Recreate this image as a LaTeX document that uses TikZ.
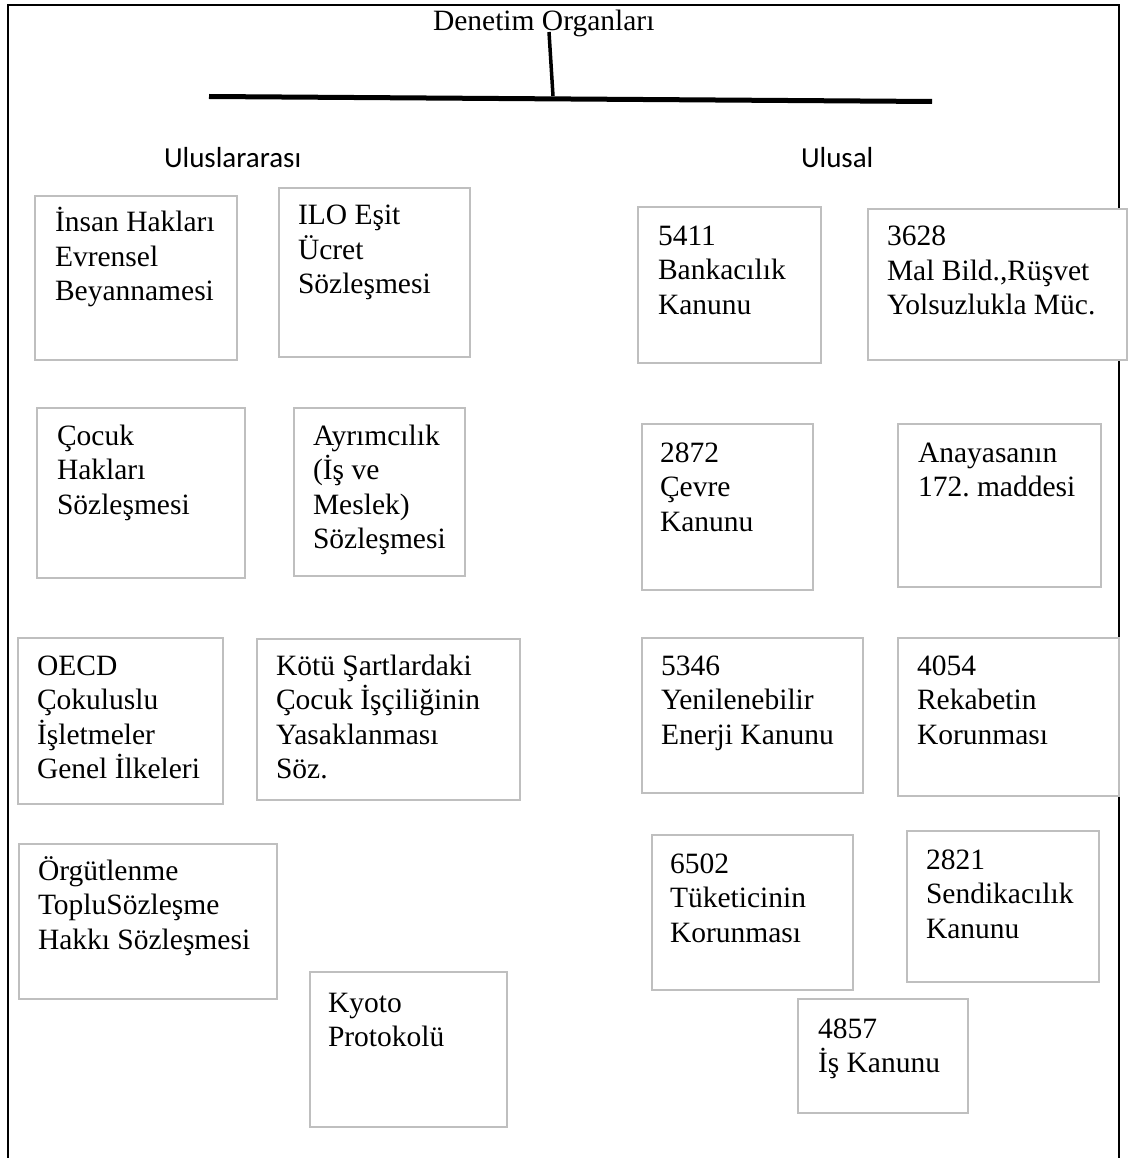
\documentclass[tikz,border=0pt]{standalone}
\usepackage{fontspec}
\setmainfont{Liberation Serif}
\newfontfamily\hdfont{Carlito}
\frenchspacing
\newcommand\lns[1]{\vtop{\halign{##\hfil\cr#1\crcr}}}
\newcommand\bbox[5]{\node[bx, minimum width={(#4)-(#2)-2}, minimum height={(#5)-(#3)-2}] (#1) at ({((#2)+(#4))/2},{((#3)+(#5))/2}) {};}
\tikzset{
  bx/.style={draw=black!25, line width=2pt, fill=white, rectangle, inner sep=0pt, outer sep=0pt},
  tx/.style={anchor=base west, inner sep=0pt, outer sep=0pt, font=\frenchspacing\fontsize{29.5}{34.5}\selectfont},
  hd/.style={anchor=base west, inner sep=0pt, outer sep=0pt, font=\hdfont\fontsize{29}{34}\selectfont},
  frame/.style={line width=2.5pt, black},
  stem/.style={line width=3.5pt, black},
  bar/.style={line width=5pt, black}
}
\begin{document}
\begin{tikzpicture}[x=1pt, y=-1pt]
\useasboundingbox (0,0) rectangle (1129,1158);
% outer frame
\draw[frame] (8,1158) -- (8,5) -- (1119,5) -- (1119,1158);
% title and bar
\node[tx] (title) at (433,31) {Denetim Organları};
\coordinate (stemT) at (549,32);
\coordinate (stemB) at (553,96);
\coordinate (barL) at (209,96.5);
\coordinate (barR) at (932,101.5);
\draw[stem] (stemT) -- (stemB);
\draw[bar] (barL) -- (barR);
% headers
\node[hd] (intl) at (164,168) {Uluslararası};
\node[hd] (natl) at (801,168) {Ulusal};
% left column boxes
\bbox{b1}{34}{195}{238}{361}
\node[tx] (t1) at (55,232) {\lns{İnsan Hakları\cr Evrensel\cr Beyannamesi}};
\bbox{b2}{278}{187}{471}{358}
\node[tx] (t2) at (298,225) {\lns{ILO Eşit\cr Ücret\cr Sözleşmesi}};
\bbox{b3}{36}{407}{246}{579}
\node[tx] (t3) at (57,445) {\lns{Çocuk\cr Hakları\cr Sözleşmesi}};
\bbox{b4}{293}{407}{466}{577}
\node[tx] (t4) at (313,445) {\lns{Ayrımcılık\cr (İş ve\cr Meslek)\cr Sözleşmesi}};
\bbox{b5}{17}{637}{224}{805}
\node[tx] (t5) at (37,675) {\lns{OECD\cr Çokuluslu\cr İşletmeler\cr Genel İlkeleri}};
\bbox{b6}{256}{638}{521}{801}
\node[tx] (t6) at (276,675) {\lns{Kötü Şartlardaki\cr Çocuk İşçiliğinin\cr Yasaklanması\cr Söz.}};
\bbox{b7}{18}{843}{278}{1000}
\node[tx] (t7) at (38,880) {\lns{Örgütlenme\cr TopluSözleşme\cr Hakkı Sözleşmesi}};
\bbox{b8}{309}{971}{508}{1128}
\node[tx] (t8) at (328,1012) {\lns{Kyoto\cr Protokolü}};
% right column boxes
\bbox{b9}{637}{206}{822}{364}
\node[tx] (t9) at (658,245) {\lns{5411\cr Bankacılık\cr Kanunu}};
\bbox{b10}{867}{208}{1128}{361}
\node[tx] (t10) at (887,246) {\lns{3628\cr Mal Bild.,Rüşvet\cr Yolsuzlukla Müc.}};
\bbox{b11}{641}{423}{814}{591}
\node[tx] (t11) at (660,462) {\lns{2872\cr Çevre\cr Kanunu}};
\bbox{b12}{897}{423}{1102}{588}
\node[tx] (t12) at (918,462) {\lns{Anayasanın\cr 172. maddesi}};
\bbox{b13}{641}{637}{864}{794}
\node[tx] (t13) at (661,675) {\lns{5346\cr Yenilenebilir\cr Enerji Kanunu}};
\bbox{b14}{897}{637}{1120}{797}
\node[tx] (t14) at (917,675) {\lns{4054\cr Rekabetin\cr Korunması}};
\bbox{b15}{651}{834}{854}{991}
\node[tx] (t15) at (670,873) {\lns{6502\cr Tüketicinin\cr Korunması}};
\bbox{b16}{906}{830}{1100}{983}
\node[tx] (t16) at (926,869) {\lns{2821\cr Sendikacılık\cr Kanunu}};
\bbox{b17}{797}{998}{969}{1114}
\node[tx] (t17) at (818,1038) {\lns{4857\cr İş Kanunu}};
\end{tikzpicture}
\end{document}
